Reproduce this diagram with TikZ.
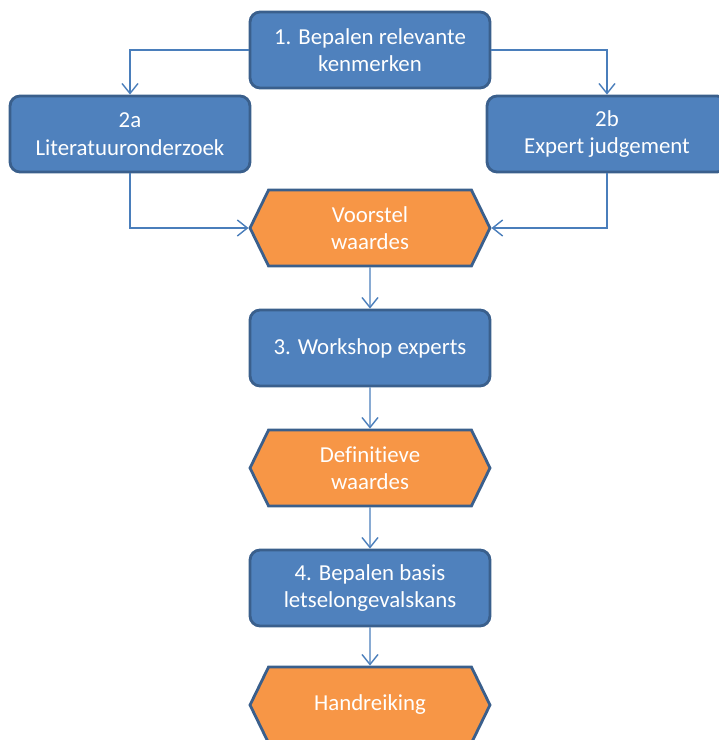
\documentclass[tikz,border=0pt]{standalone}
\usepackage{fontspec}
\setmainfont[Ligatures=NoCommon]{Carlito}
\usetikzlibrary{shapes,arrows.meta}
\definecolor{blauw}{HTML}{4F81BD}
\definecolor{rand}{HTML}{3A5F8C}
\definecolor{oranje}{HTML}{F79646}
\definecolor{lijn}{HTML}{4A7EBB}

\begin{document}
\begin{tikzpicture}[x=0.02cm,y=-0.02cm]
    \tikzstyle{stap}=[rectangle, rounded corners=0.2cm, draw=rand, line width=1.6pt, fill=blauw, text=white, align=center, minimum width=4.8cm, minimum height=1.52cm, inner sep=2pt, font=\fontsize{13}{15.6}\selectfont]
    \tikzstyle{uitkomst}=[stap, signal, signal to=west and east, signal pointer angle=128, sharp corners, fill=oranje]
    \tikzstyle{pijl}=[draw=lijn, line width=0.8pt, -{Straight Barb[length=2mm,width=3.2mm]}]

    \useasboundingbox (0,0) rectangle (719,740);
    \clip (0,0) rectangle (719,740);

    \node[stap] (s1) at (370,50) {1. Bepalen relevante\\kenmerken};
    \node[stap] (s2a) at (130,134) {2a\\Literatuuronderzoek};
    \node[stap] (s2b) at (607,134) {2b\\Expert judgement};
    \node[uitkomst] (voorstel) at (370,228) {Voorstel\\waardes};
    \node[stap] (s3) at (370,348) {3. Workshop experts};
    \node[uitkomst] (definitief) at (370,468) {Definitieve\\waardes};
    \node[stap] (s4) at (370,588) {4. Bepalen basis\\letselongevalskans};
    \node[uitkomst] (handreiking) at (370,705) {Handreiking};

    \draw[pijl] (s1.west) -| (s2a.north);
    \draw[pijl] (s1.east) -| (s2b.north);
    \draw[pijl] (s2a.south) |- (voorstel.west);
    \draw[pijl] (s2b.south) |- (voorstel.east);
    \draw[pijl] (voorstel) -- (s3);
    \draw[pijl] (s3) -- (definitief);
    \draw[pijl] (definitief) -- (s4);
    \draw[pijl] (s4) -- (handreiking);
\end{tikzpicture}
\end{document}
